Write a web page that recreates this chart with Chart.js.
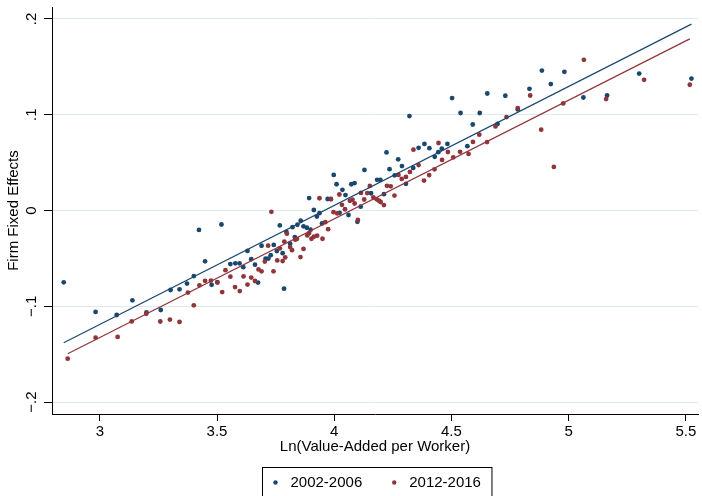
<!DOCTYPE html>
<html><head><meta charset="utf-8">
<script src="https://cdn.jsdelivr.net/npm/chart.js@4.4.1/dist/chart.umd.min.js"></script>
<style>html,body{margin:0;padding:0;background:#fff;}#wrap{width:702px;height:496px;}</style>
</head><body><div id="wrap"><canvas id="c" width="702" height="496"></canvas></div>
<script>
const seriesNames = ['2002-2006', '2012-2016'];
const xTicks = [3, 3.5, 4, 4.5, 5, 5.5];
const yTicks = [-0.2, -0.1, 0, 0.1, 0.2];
const yTickLabels = ['\u2212.2', '\u2212.1', '0', '.1', '.2'];

const blueX = [2.846,2.982,3.072,3.139,3.199,3.260,3.302,3.340,3.372,3.401,
3.423,3.449,3.477,3.501,3.519,3.557,3.578,3.596,3.612,3.630,
3.646,3.662,3.675,3.690,3.707,3.719,3.729,3.742,3.755,3.768,
3.780,3.786,3.796,3.812,3.822,3.832,3.843,3.857,3.869,3.883,
3.893,3.899,3.913,3.926,3.937,3.948,3.972,3.985,3.998,4.010,
4.023,4.035,4.048,4.061,4.073,4.087,4.099,4.113,4.129,4.157,
4.183,4.197,4.212,4.223,4.236,4.258,4.273,4.289,4.306,4.321,
4.337,4.360,4.385,4.406,4.429,4.444,4.459,4.483,4.503,4.539,
4.568,4.591,4.621,4.653,4.697,4.730,4.783,4.833,4.886,4.924,
4.982,5.063,5.164,5.301,5.524];
const blueY = [-0.0750,-0.1059,-0.1091,-0.0938,-0.1065,-0.1039,-0.0830,-0.0823,-0.0763,-0.0685,
-0.0203,-0.0531,-0.0776,-0.0747,-0.0146,-0.0559,-0.0552,-0.0552,-0.0592,-0.0422,
-0.0508,-0.0566,-0.0753,-0.0368,-0.0503,-0.0502,-0.0467,-0.0359,-0.0424,-0.0156,
-0.0446,-0.0816,-0.0224,-0.0347,-0.0174,-0.0278,-0.0149,-0.0107,-0.0165,-0.0180,
0.0130,-0.0200,0.0005,-0.0063,-0.0028,-0.0135,0.0120,0.0120,0.0372,0.0274,
-0.0024,0.0216,0.0161,-0.0047,0.0274,0.0286,-0.0118,0.0040,0.0424,0.0180,
0.0320,0.0320,0.0170,0.0606,0.0432,0.0367,0.0534,0.0464,0.0279,0.0986,
0.0445,0.0654,0.0695,0.0651,0.0560,0.0609,0.0646,0.0695,0.1174,0.1018,
0.0672,0.0898,0.1018,0.1222,0.0904,0.1198,0.1055,0.1271,0.1461,0.1320,
0.1448,0.1180,0.1201,0.1430,0.1378];

const redX = [2.863,2.982,3.076,3.136,3.198,3.258,3.299,3.340,3.376,3.401,
3.425,3.449,3.474,3.502,3.522,3.536,3.557,3.577,3.597,3.613,
3.630,3.646,3.662,3.677,3.690,3.704,3.718,3.732,3.741,3.757,
3.768,3.780,3.787,3.791,3.798,3.812,3.820,3.834,3.841,3.856,
3.869,3.885,3.893,3.903,3.913,3.927,3.937,3.950,3.962,3.974,
3.986,3.997,4.013,4.022,4.033,4.046,4.067,4.078,4.087,4.101,
4.114,4.128,4.141,4.152,4.167,4.181,4.191,4.198,4.212,4.225,
4.241,4.257,4.274,4.288,4.306,4.323,4.338,4.360,4.383,4.405,
4.428,4.445,4.460,4.485,4.508,4.537,4.573,4.592,4.619,4.652,
4.688,4.735,4.783,4.836,4.883,4.937,4.977,5.065,5.160,5.322,5.517];
const redY = [-0.1547,-0.1328,-0.1320,-0.1158,-0.1078,-0.1159,-0.1139,-0.1164,-0.0857,-0.0990,
-0.0781,-0.0734,-0.0732,-0.0753,-0.0852,-0.0623,-0.0691,-0.0800,-0.0841,-0.0688,
-0.0774,-0.0700,-0.0736,-0.0615,-0.0635,-0.0533,-0.0367,-0.0014,-0.0635,-0.0521,
-0.0396,-0.0528,-0.0325,-0.0490,-0.0242,-0.0382,-0.0414,-0.0305,-0.0297,-0.0486,
-0.0401,-0.0260,-0.0236,-0.0295,-0.0274,-0.0263,0.0128,-0.0295,-0.0122,-0.0195,
0.0118,-0.0018,-0.0031,0.0167,0.0059,0.0013,0.0102,0.0113,0.0073,-0.0099,
0.0184,0.0115,0.0182,0.0257,0.0138,0.0117,0.0102,0.0089,0.0057,0.0258,
0.0252,0.0156,0.0372,0.0330,0.0351,0.0403,0.0635,0.0474,0.0313,0.0370,
0.0430,0.0705,0.0528,0.0611,0.0555,0.0613,0.0591,0.0716,0.0792,0.0714,
0.0878,0.0976,0.1070,0.1201,0.0844,0.0455,0.1118,0.1573,0.1164,0.1365,0.1313];

const blueFitX = [2.846, 5.524];
const blueFitY = [-0.1381, 0.1946];
const redFitX = [2.863, 5.517];
const redFitY = [-0.1496, 0.1792];

const BLUE = '#1a476f';
const RED = '#90353b';
const FONT = '"Liberation Sans", Arial, Helvetica, sans-serif';

const toPts = (xs, ys) => xs.map((x, i) => ({x: x, y: ys[i]}));

const yLabelPlugin = {
  id: 'yLabels',
  afterDraw(chart) {
    const s = chart.scales.y, ctx = chart.ctx;
    ctx.save();
    ctx.fillStyle = '#000';
    ctx.font = '15px ' + FONT;
    ctx.textAlign = 'center';
    ctx.textBaseline = 'alphabetic';
    yTicks.forEach((v, i) => {
      const py = s.getPixelForValue(v);
      ctx.save();
      ctx.translate(s.right - 16, py);
      ctx.rotate(-Math.PI / 2);
      ctx.fillText(yTickLabels[i], 0, 0);
      ctx.restore();
    });
    ctx.restore();
  }
};

const legendPlugin = {
  id: 'boxLegend',
  afterDraw(chart) {
    const ctx = chart.ctx, ca = chart.chartArea;
    ctx.save();
    ctx.font = '15px ' + FONT;
    const colors = [BLUE, RED];
    const w = seriesNames.map(t => ctx.measureText(t).width);
    const padL = 13, padR = 11, dotGap = 15, itemGap = 32;
    const total = padL + dotGap + w[0] + itemGap + dotGap + w[1] + padR;
    const left = Math.round((ca.left + ca.right) / 2 - total / 2 + 1.5) + 0.5;
    const top = 467.5;
    ctx.strokeStyle = '#000';
    ctx.lineWidth = 1;
    ctx.strokeRect(left, top, total, 60);
    const cy = top + 15;
    let x = left + padL;
    ctx.textBaseline = 'middle';
    ctx.textAlign = 'left';
    seriesNames.forEach((t, i) => {
      ctx.fillStyle = colors[i];
      ctx.beginPath();
      ctx.arc(x, cy, 2.2, 0, Math.PI * 2);
      ctx.fill();
      ctx.fillStyle = '#000';
      ctx.fillText(t, x + dotGap, cy);
      x += dotGap + w[i] + itemGap;
    });
    ctx.restore();
  }
};

new Chart(document.getElementById('c'), {
  type: 'scatter',
  data: {
    datasets: [
      {label: seriesNames[0] + ' fit', data: toPts(blueFitX, blueFitY), showLine: true, borderColor: BLUE, borderWidth: 1.2, pointRadius: 0, fill: false},
      {label: seriesNames[1] + ' fit', data: toPts(redFitX, redFitY), showLine: true, borderColor: RED, borderWidth: 1.2, pointRadius: 0, fill: false},
      {label: seriesNames[1], data: toPts(redX, redY), backgroundColor: RED, borderWidth: 0, pointRadius: 2.4},
      {label: seriesNames[0], data: toPts(blueX, blueY), backgroundColor: BLUE, borderWidth: 0, pointRadius: 2.4}
    ]
  },
  options: {
    responsive: false,
    animation: false,
    devicePixelRatio: 1,
    layout: {padding: {left: 0, right: 4, top: 7, bottom: 38}},
    plugins: {legend: {display: false}, tooltip: {enabled: false}},
    scales: {
      x: {
        type: 'linear', min: 2.796, max: 5.552,
        afterBuildTicks: s => { s.ticks = xTicks.map(v => ({value: v})); },
        afterFit: s => { s.height = 44; },
        grid: {drawOnChartArea: false, drawTicks: true, tickLength: 7, tickColor: '#000', tickWidth: 1},
        border: {display: true, color: '#000', width: 1},
        ticks: {padding: 2, color: '#000', font: {family: FONT, size: 15}, maxRotation: 0, minRotation: 0, autoSkip: false, callback: v => String(v)},
        title: {display: true, text: 'Ln(Value-Added per Worker)', color: '#000', font: {family: FONT, size: 15}, padding: {top: 0, bottom: 2}}
      },
      y: {
        type: 'linear', min: -0.2125, max: 0.2125,
        afterBuildTicks: s => { s.ticks = yTicks.map(v => ({value: v})); },
        afterFit: s => { s.width = 52; },
        grid: {color: '#e0e9eb', lineWidth: 1, drawTicks: true, tickLength: 8, tickColor: '#000', tickWidth: 1},
        border: {display: true, color: '#000', width: 1},
        ticks: {display: false},
        title: {display: true, text: 'Firm Fixed Effects', color: '#000', font: {family: FONT, size: 15}, padding: {top: 5, bottom: 0}}
      }
    }
  },
  plugins: [yLabelPlugin, legendPlugin]
});
</script>
</body></html>
